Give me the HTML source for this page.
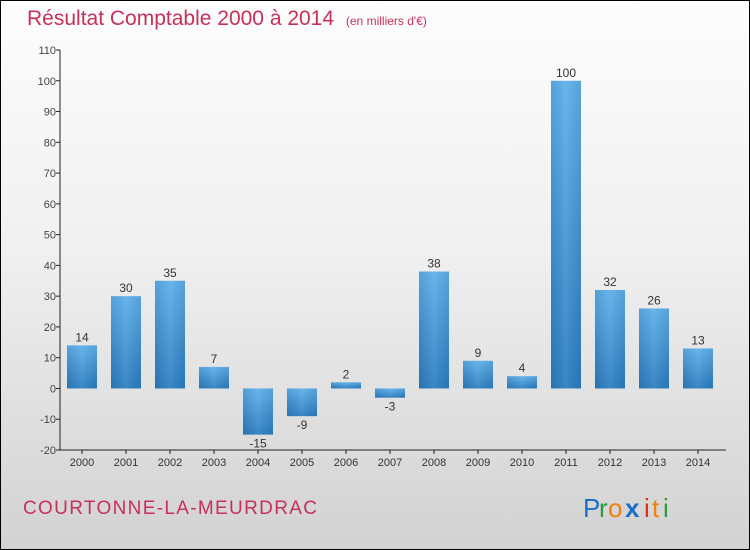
<!DOCTYPE html>
<html><head><meta charset="utf-8"><style>
body{margin:0}
#c{width:748px;height:548px;border:1px solid #000;background:linear-gradient(#fdfdfd 0%,#f0f0f0 45%,#d2d2d2 100%);position:relative;overflow:hidden;font-family:"Liberation Sans",sans-serif}
</style></head><body>
<div id="c">
<svg id="s" width="748" height="548">
<defs><linearGradient id="g" x1="0" y1="0" x2="0" y2="1"><stop offset="0" stop-color="#5caeea"/><stop offset="1" stop-color="#2a7cc0"/></linearGradient>
<linearGradient id="gv" x1="0" x2="1"><stop offset="0" stop-color="#000" stop-opacity="0.08"/><stop offset="0.5" stop-color="#fff" stop-opacity="0.08"/><stop offset="1" stop-color="#000" stop-opacity="0.06"/></linearGradient></defs>
<text x="26" y="24" font-size="21" fill="#c8305a">Résultat Comptable 2000 à 2014 <tspan font-size="12" dx="6">(en milliers d'€)</tspan></text>
<text x="22" y="513" font-size="19" fill="#c8305a" textLength="294">COURTONNE-LA-MEURDRAC</text>
<g font-size="26" font-family="Liberation Sans,sans-serif">
<text x="582" y="516" fill="#1a6fc8">P</text><text x="598" y="516" fill="#2a9a3a">r</text><text x="607" y="516" fill="#f08010">o</text><text x="624" y="516" fill="#1a6fc8" font-weight="bold">x</text><text x="643" y="516" fill="#e03010">i</text><text x="651" y="516" fill="#f08010">t</text><text x="662" y="516" fill="#2a9a3a">i</text>
</g>
<g id="ax"></g><g id="bars"></g>
</svg></div>
<script>
const years=["2000","2001","2002","2003","2004","2005","2006","2007","2008","2009","2010","2011","2012","2013","2014"];
const values=[14,30,35,7,-15,-9,2,-3,38,9,4,100,32,26,13];
const yTicks=[-20,-10,0,10,20,30,40,50,60,70,80,90,100,110];
const NS="http://www.w3.org/2000/svg";
const y0=449,y1=49,vmin=-20,vmax=110,x0=59,step=44,bw=30;
const Y=v=>y0-(v-vmin)*(y0-y1)/(vmax-vmin);
const X=i=>x0+22+i*step;
function mk(t,a,p){const e=document.createElementNS(NS,t);for(const k in a)e.setAttribute(k,a[k]);p.appendChild(e);return e;}
const ax=document.getElementById('ax'),bars=document.getElementById('bars');
const yl=mk('line',{x1:x0,x2:x0,y1:y1,y2:y0,stroke:'#222'},ax);


const xl=mk('line',{x1:x0,x2:x0+15*step+6,y1:y0,y2:y0,stroke:'#222'},ax);


yTicks.forEach(v=>{
 mk('line',{x1:x0-4,x2:x0,y1:Y(v),y2:Y(v),stroke:'#222'},ax);
 const t=mk('text',{x:x0-4,y:Y(v)+4,'font-size':11,'text-anchor':'end',fill:'#444'},ax);t.textContent=v;
 
 
});
years.forEach((yr,i)=>{
 mk('line',{x1:X(i),x2:X(i),y1:y0,y2:y0+4,stroke:'#222'},ax);
 const t=mk('text',{x:X(i),y:y0+16,'font-size':11,'text-anchor':'middle',fill:'#333'},ax);t.textContent=yr;
 
 
 const v=values[i],top=Math.min(Y(v),Y(0)),h=Math.abs(Y(v)-Y(0));
 const r=mk('rect',{x:X(i)-bw/2,y:top,width:bw,height:h,fill:'url(#g)'},bars);
 
 
 mk('rect',{x:X(i)-bw/2,y:top,width:bw,height:h,fill:'url(#gv)'},bars);
 const l=mk('text',{x:X(i),y:v>=0?Y(v)-4:Y(v)+13,'font-size':12,'text-anchor':'middle',fill:'#333'},bars);l.textContent=v;
 
 
});
</script>
</body></html>
